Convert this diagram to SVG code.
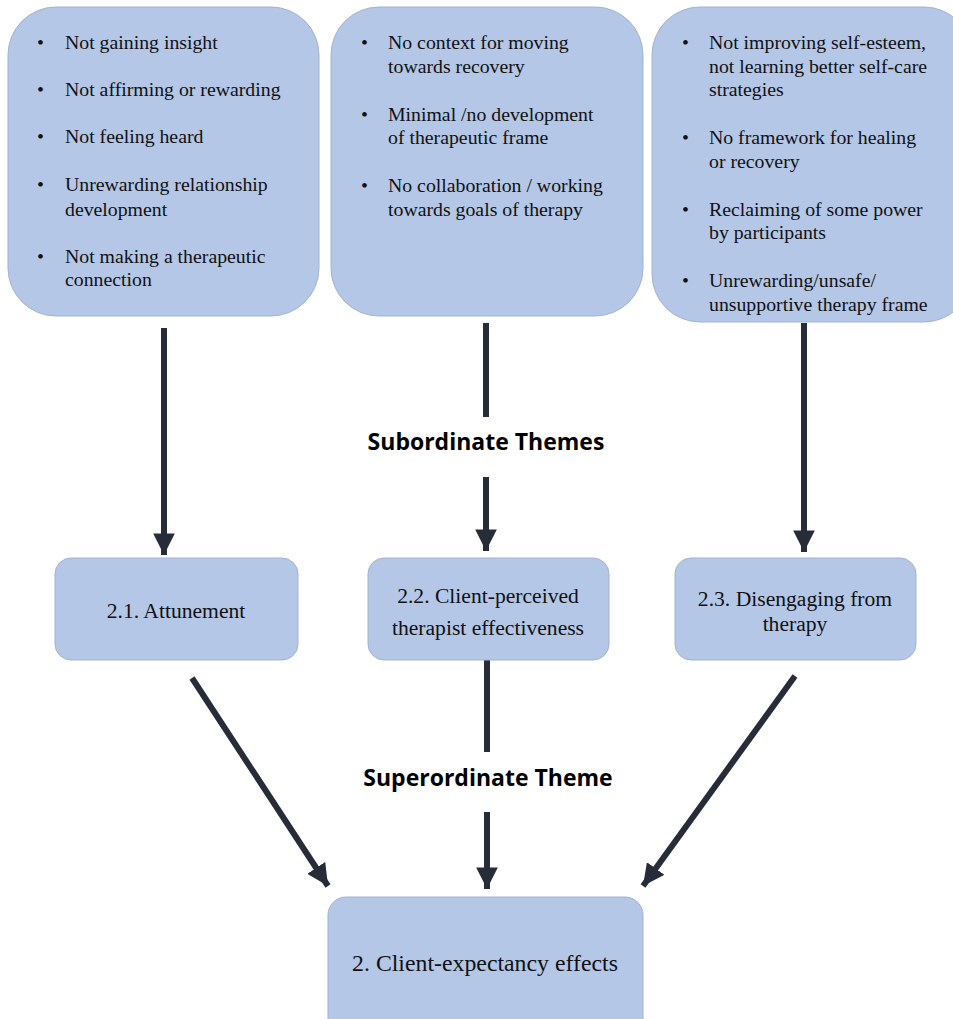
<svg xmlns="http://www.w3.org/2000/svg" width="953" height="1019" viewBox="0 0 953 1019">
<defs>
<style>
.box{fill:#b4c7e7;stroke:#a3b3cf;stroke-width:1}
.t{font-family:"Liberation Serif","Times New Roman",serif;font-size:19.8px;fill:#111}
.m{font-family:"Liberation Serif","Times New Roman",serif;font-size:21.6px;fill:#111;text-anchor:middle}
.h{font-family:"Open Sans","Liberation Sans",sans-serif;font-size:23px;font-weight:bold;fill:#000;text-anchor:middle}
.c{stroke:#262c38;stroke-width:6;fill:none}
</style>
<marker id="ah" viewBox="0 0 10 10" refX="10" refY="5" markerWidth="3.6" markerHeight="3.6" orient="auto" markerUnits="strokeWidth">
<path d="M0,0 L10,5 L0,10 Z" fill="#262c38"/>
</marker>
</defs>
<rect width="953" height="1019" fill="#fff"/>
<g id="connectors">
<line class="c" x1="164" y1="328" x2="164" y2="555" marker-end="url(#ah)"/>
<line class="c" x1="486" y1="323" x2="486" y2="417"/>
<line class="c" x1="486" y1="477" x2="486" y2="551" marker-end="url(#ah)"/>
<line class="c" x1="804" y1="323" x2="804" y2="552" marker-end="url(#ah)"/>
<line class="c" x1="192" y1="678" x2="328" y2="886" marker-end="url(#ah)"/>
<line class="c" x1="487" y1="660" x2="487" y2="752"/>
<line class="c" x1="487" y1="812" x2="487" y2="889" marker-end="url(#ah)"/>
<line class="c" x1="795" y1="676" x2="643" y2="886" marker-end="url(#ah)"/>
</g>
<g id="box1">
<rect class="box" x="8" y="7" width="311" height="309" rx="48"/>
<text class="t" x="37" y="49">•</text><text class="t" x="65" y="49">Not gaining insight</text>
<text class="t" x="37" y="96">•</text><text class="t" x="65" y="96">Not affirming or rewarding</text>
<text class="t" x="37" y="143">•</text><text class="t" x="65" y="143">Not feeling heard</text>
<text class="t" x="37" y="191">•</text><text class="t" x="65" y="191">Unrewarding relationship</text>
<text class="t" x="65" y="216">development</text>
<text class="t" x="37" y="263">•</text><text class="t" x="65" y="263">Not making a therapeutic</text>
<text class="t" x="65" y="286">connection</text>
</g>
<g id="box2">
<rect class="box" x="331" y="7" width="312" height="309" rx="48"/>
<text class="t" x="361" y="49">•</text><text class="t" x="388" y="49">No context for moving</text>
<text class="t" x="388" y="73">towards recovery</text>
<text class="t" x="361" y="121">•</text><text class="t" x="388" y="121">Minimal /no development</text>
<text class="t" x="388" y="144">of therapeutic frame</text>
<text class="t" x="361" y="192">•</text><text class="t" x="388" y="192">No collaboration / working</text>
<text class="t" x="388" y="216">towards goals of therapy</text>
</g>
<g id="box3">
<rect class="box" x="652" y="7" width="320" height="315" rx="48"/>
<text class="t" x="682" y="49">•</text><text class="t" x="709" y="49">Not improving self-esteem,</text>
<text class="t" x="709" y="73">not learning better self-care</text>
<text class="t" x="709" y="96">strategies</text>
<text class="t" x="682" y="144">•</text><text class="t" x="709" y="144">No framework for healing</text>
<text class="t" x="709" y="168">or recovery</text>
<text class="t" x="682" y="216">•</text><text class="t" x="709" y="216">Reclaiming of some power</text>
<text class="t" x="709" y="239">by participants</text>
<text class="t" x="682" y="287">•</text><text class="t" x="709" y="287">Unrewarding/unsafe/</text>
<text class="t" x="709" y="311">unsupportive therapy frame</text>
</g>
<g id="label-subordinate">
<text class="h" x="486" y="450">Subordinate Themes</text>
</g>
<g id="node21">
<rect class="box" x="55" y="558" width="243" height="102" rx="16"/>
<text class="m" x="176" y="618">2.1. Attunement</text>
</g>
<g id="node22">
<rect class="box" x="368" y="558" width="241" height="102" rx="16"/>
<text class="m" x="488" y="603">2.2. Client-perceived</text>
<text class="m" x="488" y="635">therapist effectiveness</text>
</g>
<g id="node23">
<rect class="box" x="675" y="558" width="241" height="102" rx="16"/>
<text class="m" x="795" y="606">2.3. Disengaging from</text>
<text class="m" x="795" y="631">therapy</text>
</g>
<g id="label-superordinate">
<text class="h" x="488" y="786">Superordinate Theme</text>
</g>
<g id="node2">
<rect class="box" x="328" y="897" width="315" height="140" rx="18"/>
<text class="m" x="485" y="971" style="font-size:23.8px">2. Client-expectancy effects</text>
</g>
</svg>
